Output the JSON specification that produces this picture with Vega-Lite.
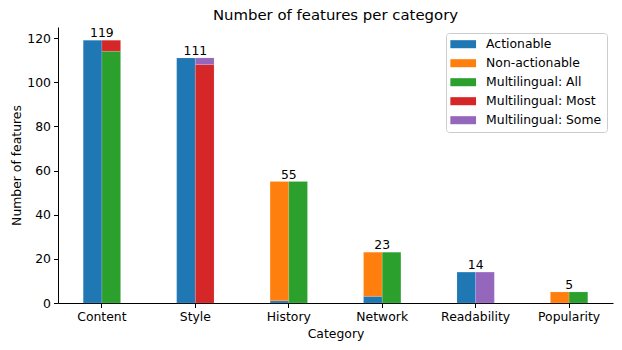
{
  "$schema": "https://vega.github.io/schema/vega-lite/v6.json",
  "width": 555,
  "height": 276,
  "autosize": "none",
  "padding": {"left": 58, "top": 27, "right": 9, "bottom": 47},
  "title": {"text": "Number of features per category", "font": "DejaVu Sans", "fontSize": 14.9, "fontWeight": "normal", "color": "black", "offset": 4},
  "config": {
    "view": {"stroke": null},
    "font": "DejaVu Sans",
    "axis": {"domainColor": "black", "tickColor": "black", "labelColor": "black", "titleColor": "black", "labelFont": "DejaVu Sans", "titleFont": "DejaVu Sans", "labelFontSize": 12.4, "titleFontSize": 12.4, "titleFontWeight": "normal", "grid": false, "tickSize": 4.5, "domainWidth": 1, "tickWidth": 1, "labelPadding": 3}
  },
  "data": {"values": [
    {"category": "Content", "group": "A", "series": "Actionable", "ord": 0, "value": 119},
    {"category": "Content", "group": "M", "series": "Multilingual: All", "ord": 2, "value": 114},
    {"category": "Content", "group": "M", "series": "Multilingual: Most", "ord": 3, "value": 5},
    {"category": "Style", "group": "A", "series": "Actionable", "ord": 0, "value": 111},
    {"category": "Style", "group": "M", "series": "Multilingual: Most", "ord": 3, "value": 108},
    {"category": "Style", "group": "M", "series": "Multilingual: Some", "ord": 4, "value": 3},
    {"category": "History", "group": "A", "series": "Actionable", "ord": 0, "value": 1},
    {"category": "History", "group": "A", "series": "Non-actionable", "ord": 1, "value": 54},
    {"category": "History", "group": "M", "series": "Multilingual: All", "ord": 2, "value": 55},
    {"category": "Network", "group": "A", "series": "Actionable", "ord": 0, "value": 3},
    {"category": "Network", "group": "A", "series": "Non-actionable", "ord": 1, "value": 20},
    {"category": "Network", "group": "M", "series": "Multilingual: All", "ord": 2, "value": 23},
    {"category": "Readability", "group": "A", "series": "Actionable", "ord": 0, "value": 14},
    {"category": "Readability", "group": "M", "series": "Multilingual: Some", "ord": 4, "value": 14},
    {"category": "Popularity", "group": "A", "series": "Non-actionable", "ord": 1, "value": 5},
    {"category": "Popularity", "group": "M", "series": "Multilingual: All", "ord": 2, "value": 5}
  ]},
  "layer": [
    {
      "mark": {"type": "bar", "stroke": "white", "strokeOpacity": 0.25, "strokeWidth": 0.5},
      "encoding": {
        "x": {"field": "category", "type": "nominal", "sort": ["Content", "Style", "History", "Network", "Readability", "Popularity"],
              "scale": {"paddingInner": 0.6, "paddingOuter": 0.27},
              "axis": {"title": "Category", "labelAngle": 0, "titlePadding": 5}},
        "xOffset": {"field": "group", "type": "nominal", "scale": {"domain": ["A", "M"], "paddingInner": 0, "paddingOuter": 0}},
        "y": {"field": "value", "type": "quantitative", "stack": "zero", "scale": {"domain": [0, 125], "nice": false},
              "axis": {"title": "Number of features", "values": [0, 20, 40, 60, 80, 100, 120], "titlePadding": 3}},
        "color": {"field": "series", "type": "nominal",
                  "scale": {"domain": ["Actionable", "Non-actionable", "Multilingual: All", "Multilingual: Most", "Multilingual: Some"],
                            "range": ["#1f77b4", "#ff7f0e", "#2ca02c", "#d62728", "#9467bd"]},
                  "legend": {"title": null, "orient": "top-right", "offset": 6, "symbolType": "M-2.14,-0.67H2.14V0.67H-2.14Z", "symbolSize": 144,
                             "symbolStrokeWidth": 0, "symbolOffset": 6, "labelFontSize": 12.4, "labelFont": "DejaVu Sans", "labelColor": "black",
                             "rowPadding": 6, "padding": 5, "strokeColor": "#cccccc", "fillColor": "white", "cornerRadius": 3, "labelOffset": 16.7}},
        "order": {"field": "ord", "type": "quantitative"}
      }
    },
    {
      "transform": [
        {"filter": "datum.group === 'A'"},
        {"aggregate": [{"op": "sum", "field": "value", "as": "total"}], "groupby": ["category"]}
      ],
      "mark": {"type": "text", "baseline": "bottom", "dy": 0, "fontSize": 12.4, "font": "DejaVu Sans", "color": "black"},
      "encoding": {
        "x": {"field": "category", "type": "nominal", "sort": ["Content", "Style", "History", "Network", "Readability", "Popularity"]},
        "y": {"field": "total", "type": "quantitative"},
        "text": {"field": "total", "type": "quantitative"}
      }
    }
  ]
}
